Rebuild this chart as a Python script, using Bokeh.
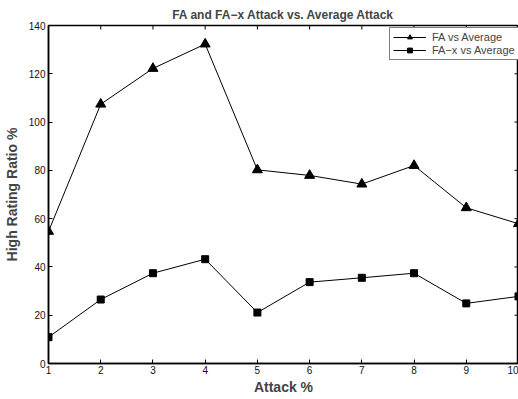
import math
from bokeh.plotting import figure
from bokeh.models import Range1d, Legend, LegendItem, FixedTicker
from bokeh.embed import file_html
from bokeh.resources import INLINE

attack = [1, 2, 3, 4, 5, 6, 7, 8, 9, 10]
fa_vs_avg = [54.7, 107.4, 122.2, 132.3, 80.2, 77.9, 74.3, 82.0, 64.5, 57.9]
fax_vs_avg = [10.9, 26.5, 37.4, 43.2, 21.1, 33.7, 35.5, 37.4, 24.9, 27.8]
x_ticks = [1, 2, 3, 4, 5, 6, 7, 8, 9, 10]
y_ticks = [0, 20, 40, 60, 80, 100, 120, 140]

FONT = "Liberation Sans"

p = figure(width=518, height=399, output_backend="svg", toolbar_location=None,
           x_range=Range1d(x_ticks[0], x_ticks[-1]), y_range=Range1d(y_ticks[0], y_ticks[-1]),
           min_border_left=48, min_border_right=0, min_border_top=25, min_border_bottom=36,
           title="FA and FA\u2212x Attack vs. Average Attack")
p.title.text_font = FONT
p.title.text_font_size = "12px"
p.title.text_font_style = "bold"
p.title.align = "center"
p.title.offset = 2
p.title.standoff = 8

p.xgrid.visible = False
p.ygrid.visible = False
p.outline_line_color = "black"
p.outline_line_width = 1.5
p.background_fill_color = "white"
p.border_fill_color = "white"


def style_axis(ax):
    ax.axis_line_color = "black"
    ax.axis_line_width = 1.5
    ax.major_tick_in = 4
    ax.major_tick_out = 0
    ax.minor_tick_line_color = None
    ax.major_tick_line_color = "black"
    ax.major_tick_line_width = 1
    ax.major_label_text_font = FONT
    ax.major_label_text_font_size = "10px"
    ax.major_label_text_color = "#111111"
    ax.major_label_standoff = 2


xa = p.xaxis[0]
xa.ticker = FixedTicker(ticks=x_ticks)
style_axis(xa)
xa.axis_label = "Attack %"
xa.axis_label_text_font = FONT
xa.axis_label_text_font_size = "14px"
xa.axis_label_text_font_style = "bold"
xa.axis_label_standoff = 2

ya = p.yaxis[0]
ya.ticker = FixedTicker(ticks=y_ticks)
style_axis(ya)
ya.major_label_standoff = 3
ya.axis_label = "High Rating Ratio %"
ya.axis_label_text_font = FONT
ya.axis_label_text_font_size = "14px"
ya.axis_label_text_font_style = "bold"
ya.axis_label_standoff = 6

# mirrored inward ticks on the top and right frame edges (half of each dash is clipped)
p.scatter([x_ticks[-1]] * len(y_ticks), y_ticks, marker="dash", size=8,
          line_color="black", line_width=1)
p.scatter(x_ticks, [y_ticks[-1]] * len(x_ticks), marker="dash", size=8, angle=math.pi / 2,
          line_color="black", line_width=1)

l1 = p.line(attack, fa_vs_avg, line_color="black", line_width=1)
s1 = p.scatter(attack, fa_vs_avg, marker="triangle", size=10, fill_color="black", line_color="black")
l2 = p.line(attack, fax_vs_avg, line_color="black", line_width=1)
s2 = p.scatter(attack, fax_vs_avg, marker="square", size=7, fill_color="black", line_color="black")

legend = Legend(items=[LegendItem(label="FA vs Average", renderers=[l1, s1]),
                       LegendItem(label="FA\u2212x vs Average", renderers=[l2, s2])],
                location=(341, 303))
legend.border_line_color = "black"
legend.border_line_width = 1.5
legend.label_text_font = FONT
legend.label_text_font_size = "11px"
legend.label_height = 12
legend.glyph_height = 12
legend.glyph_width = 33
legend.label_standoff = 6
legend.spacing = 1
legend.padding = 3
legend.margin = 0
legend.background_fill_alpha = 1
p.add_layout(legend, "center")

open("out.html", "w").write(file_html(p, INLINE))
